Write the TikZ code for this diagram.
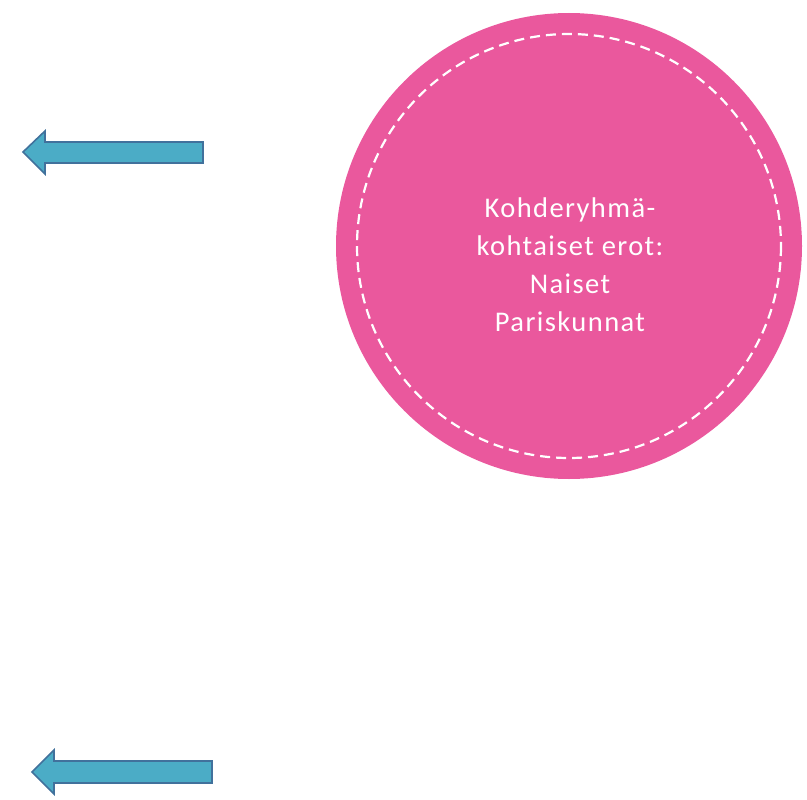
\documentclass[tikz,border=0pt]{standalone}
\usepackage{fontspec}
\setmainfont{Carlito}
\newfontfamily\circfont[LetterSpace=5]{Carlito}
\definecolor{pinkfill}{RGB}{234,88,157}
\definecolor{arrowfill}{RGB}{75,172,198}
\definecolor{arrowline}{RGB}{65,113,156}
\tikzset{
  leftarrow/.style={fill=arrowfill, draw=arrowline, line width=1.6pt, line join=miter},
  bigcircle/.style={circle, fill=pinkfill, minimum size=466pt, inner sep=0pt},
  dashring/.style={draw=white, line width=2.2pt, dash pattern=on 10pt off 6pt},
  circletext/.style={text=white, align=center, font=\circfont\fontsize{28.5pt}{38pt}\selectfont}
}
\begin{document}
\begin{tikzpicture}[x=1pt,y=-1pt]
\useasboundingbox (0,0) rectangle (807,800);
\node[bigcircle] (c) at (569,246) {};
\draw[dashring] (c.center) circle[radius=212];
\node[circletext, anchor=base] (t) at (570,331) {Kohderyhmä-\\kohtaiset erot:\\Naiset\\Pariskunnat};
\draw[leftarrow] (23,152) -- (45,131) -- (45,142) -- (203,142) -- (203,163) -- (45,163) -- (45,174) -- cycle;
\draw[leftarrow] (32,772) -- (54,750) -- (54,761) -- (212,761) -- (212,783) -- (54,783) -- (54,794) -- cycle;
\end{tikzpicture}
\end{document}
